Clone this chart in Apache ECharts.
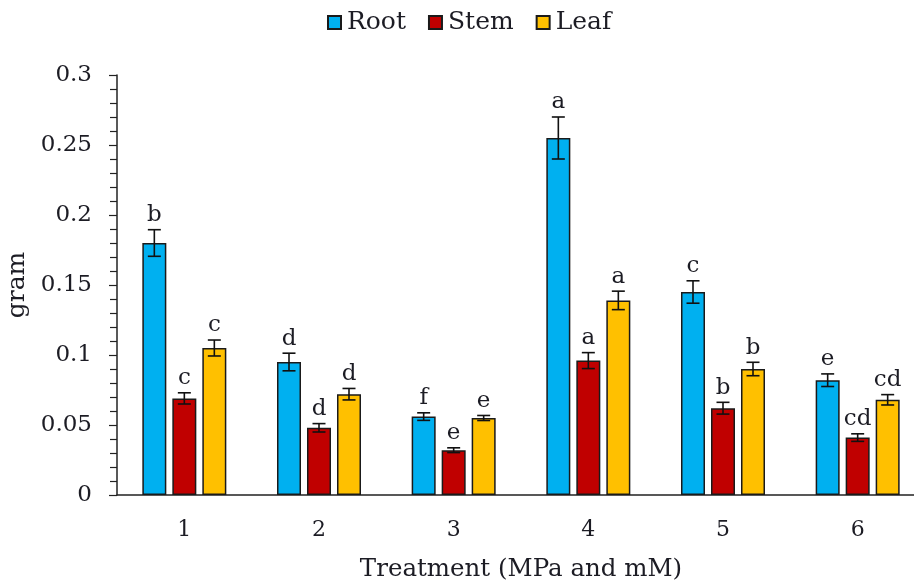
<!DOCTYPE html>
<html>
<head>
<meta charset="utf-8">
<script src="https://cdn.jsdelivr.net/npm/echarts@6/dist/echarts.min.js"></script>
<style>
  html, body { margin: 0; padding: 0; background: #fff; }
  #chart { width: 914px; height: 586px; }
</style>
</head>
<body>
<div id="chart"></div>
<script>
// Dry mass of plant organs per treatment (gram), with standard errors and significance letters
const categories = ['1', '2', '3', '4', '5', '6'];
const seriesNames = ['Root', 'Stem', 'Leaf'];

const rootMean = [0.180, 0.095, 0.056, 0.255, 0.145, 0.082];
const stemMean = [0.069, 0.048, 0.032, 0.096, 0.062, 0.041];
const leafMean = [0.105, 0.072, 0.055, 0.139, 0.090, 0.068];

const rootErr = [0.0095, 0.0063, 0.0027, 0.0150, 0.0080, 0.0045];
const stemErr = [0.0040, 0.0030, 0.0017, 0.0057, 0.0042, 0.0027];
const leafErr = [0.0057, 0.0041, 0.0018, 0.0066, 0.0048, 0.0037];

const rootLetters = ['b', 'd', 'f', 'a', 'c', 'e'];
const stemLetters = ['c', 'd', 'e', 'a', 'b', 'cd'];
const leafLetters = ['c', 'd', 'e', 'a', 'b', 'cd'];

const colors = ['#00B0F0', '#C00000', '#FFC000'];
const means = [rootMean, stemMean, leafMean];
const errs = [rootErr, stemErr, leafErr];
const letters = [rootLetters, stemLetters, leafLetters];

const FONT = '"DejaVu Serif", serif';
const TEXT = '#1c1c24';
const BAR_W = 24;
const BAR_GAP = 6;

const chart = echarts.init(document.getElementById('chart'), null, { renderer: 'canvas' });

// bars
const barSeries = seriesNames.map((name, i) => ({
  name: name,
  type: 'bar',
  data: means[i],
  barWidth: BAR_W,
  barGap: (BAR_GAP / BAR_W * 100) + '%',
  itemStyle: { color: colors[i], borderColor: '#1a1a1a', borderWidth: 1.5 },
  emphasis: { disabled: true },
  z: 2
}));

// error bars + significance letters, offset to sit on each bar of the group
const errSeries = seriesNames.map((name, i) => ({
  type: 'custom',
  name: name + ' error',
  data: means[i].map((m, k) => [k, m, errs[i][k]]),
  encode: { x: 0, y: 1 },
  z: 5,
  silent: true,
  renderItem: function (params, api) {
    const k = api.value(0);
    const m = api.value(1);
    const e = api.value(2);
    const letter = letters[i][k];
    const off = (i - 1) * (BAR_W + BAR_GAP);
    const hi = api.coord([k, m + e]);
    const lo = api.coord([k, m - e]);
    const x = hi[0] + off;
    const cap = 6.5;
    const style = { stroke: '#111', lineWidth: 1.6 };
    return {
      type: 'group',
      children: [
        { type: 'line', shape: { x1: x, y1: hi[1], x2: x, y2: lo[1] }, style: style },
        { type: 'line', shape: { x1: x - cap, y1: hi[1], x2: x + cap, y2: hi[1] }, style: style },
        { type: 'line', shape: { x1: x - cap, y1: lo[1], x2: x + cap, y2: lo[1] }, style: style },
        {
          type: 'text',
          style: {
            text: letter, x: x, y: hi[1] - 3,
            align: 'center', verticalAlign: 'bottom',
            font: '23px ' + FONT, fill: TEXT
          }
        }
      ]
    };
  }
}));

chart.setOption({
  animation: false,
  color: colors,
  legend: {
    data: seriesNames,
    top: 5,
    left: 322,
    icon: 'rect',
    itemWidth: 13,
    itemHeight: 13,
    itemGap: 22,
    textStyle: { fontFamily: FONT, fontSize: 25, color: TEXT, padding: [0, 0, 0, 1] }
  },
  grid: { left: 117, top: 75, bottom: 91, right: -11, containLabel: false, outerBoundsMode: 'none' },
  xAxis: {
    type: 'category',
    data: categories,
    name: 'Treatment (MPa and mM)',
    nameLocation: 'middle',
    nameGap: 62,
    nameTextStyle: { fontFamily: FONT, fontSize: 24.5, color: TEXT },
    axisLine: { lineStyle: { color: '#222', width: 1.5 } },
    axisTick: { alignWithLabel: true, length: 6, lineStyle: { color: '#222', width: 1.2 } },
    axisLabel: { fontFamily: FONT, fontSize: 22, color: TEXT, margin: 24 },
    splitLine: { show: false }
  },
  yAxis: {
    type: 'value',
    min: 0,
    max: 0.3,
    interval: 0.05,
    name: 'gram',
    nameLocation: 'middle',
    nameGap: 85,
    nameTextStyle: { fontFamily: FONT, fontSize: 25, color: TEXT },
    axisLine: { show: true, lineStyle: { color: '#222', width: 1.5 } },
    axisTick: { show: true, length: 8, lineStyle: { color: '#222', width: 1.2 } },
    minorTick: { show: true, splitNumber: 5, length: 7, lineStyle: { color: '#222', width: 1.2 } },
    axisLabel: {
      fontFamily: FONT, fontSize: 23, color: TEXT, margin: 25,
      formatter: v => String(+v.toFixed(2))
    },
    splitLine: { show: false }
  },
  series: barSeries.concat(errSeries)
});
</script>
</body>
</html>
